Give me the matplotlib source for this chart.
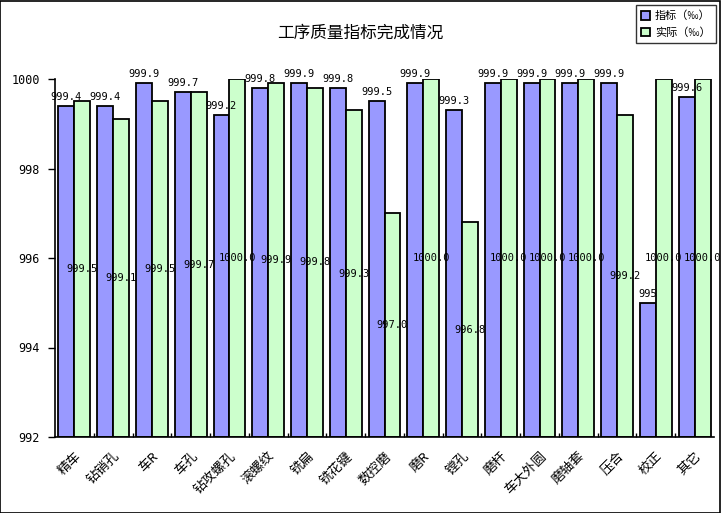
import matplotlib
matplotlib.use("Agg")
import matplotlib.pyplot as plt
import numpy as np
from matplotlib.patches import Rectangle

plt.rcParams['font.family'] = ['Noto Sans CJK SC', 'DejaVu Sans']

categories = ["精车", "钻销孔", "车R", "车孔", "钻攻螺孔", "滚螺纹", "铣扁", "铣花键", "数控磨",
              "磨R", "镗孔", "磨杆", "车大外圆", "磨轴套", "压合", "校正", "其它"]
target = [999.4, 999.4, 999.9, 999.7, 999.2, 999.8, 999.9, 999.8, 999.5,
          999.9, 999.3, 999.9, 999.9, 999.9, 999.9, 995, 999.6]
actual = [999.5, 999.1, 999.5, 999.7, 1000.0, 999.9, 999.8, 999.3, 997.0,
          1000.0, 996.8, 1000.0, 1000.0, 1000.0, 999.2, 1000.0, 1000.0]
target_labels = ["999.4", "999.4", "999.9", "999.7", "999.2", "999.8", "999.9", "999.8", "999.5",
                 "999.9", "999.3", "999.9", "999.9", "999.9", "999.9", "995", "999.6"]
actual_labels = ["999.5", "999.1", "999.5", "999.7", "1000.0", "999.9", "999.8", "999.3", "997.0",
                 "1000.0", "996.8", "1000.0", "1000.0", "1000.0", "999.2", "1000.0", "1000.0"]
series_names = ["指标（‰）", "实际（‰）"]
yticks = [992, 994, 996, 998, 1000]
ybase = 992

fig = plt.figure(figsize=(7.21, 5.13), dpi=100)
fig.patch.set_facecolor('white')
fig.add_artist(Rectangle((0.0005, 0.0005), 0.998, 0.998, transform=fig.transFigure,
                         fill=False, edgecolor='black', linewidth=1.2))

ax = fig.add_axes([55/721, 76/513, 659/721, 358/513])
n = len(categories)
x = np.arange(n)
w = 0.41
c1, c2 = '#9999FF', '#CCFFCC'
b1 = ax.bar(x - w/2, np.array(target) - ybase, w, bottom=ybase, color=c1,
            edgecolor='black', linewidth=1.3, label=series_names[0])
b2 = ax.bar(x + w/2, np.array(actual) - ybase, w, bottom=ybase, color=c2,
            edgecolor='black', linewidth=1.3, label=series_names[1])

numfont = dict(family='DejaVu Sans Mono', fontsize=7.5, color='black')
for i in range(n):
    ax.annotate(target_labels[i], (x[i] - w/2, target[i]), xytext=(0, 3),
                textcoords='offset points', ha='center', va='bottom', **numfont)
    ax.text(x[i] + w/2, (ybase + actual[i]) / 2, actual_labels[i],
            ha='center', va='center', **numfont)

ax.set_xlim(-0.5, n - 0.5)
ax.set_ylim(992, 1000)
ax.set_yticks(yticks)
ax.set_yticklabels([str(v) for v in yticks], family='DejaVu Sans Mono', fontsize=8.5)
ax.tick_params(axis='y', direction='out', length=5, width=1, pad=6)

ax.set_xticks(x)
ax.set_xticklabels(categories, rotation=45, ha='right', va='top',
                   rotation_mode='anchor', fontsize=9.5)
ax.tick_params(axis='x', which='major', length=0, pad=9)
ax.set_xticks(np.arange(n - 1) + 0.5, minor=True)
ax.tick_params(axis='x', which='minor', direction='in', length=3, width=1)

for s in ['top', 'right']:
    ax.spines[s].set_visible(False)
for s in ['left', 'bottom']:
    ax.spines[s].set_linewidth(1.2)
ax.set_facecolor('white')

fig.text(360/721, 1 - 33/513, "工序质量指标完成情况", ha='center', va='center', fontsize=12)

leg = fig.legend(handles=[b1, b2], labels=series_names, loc='upper right',
                 bbox_to_anchor=(716/721, 1 - 5/513), fontsize=8, frameon=True,
                 fancybox=False, edgecolor='black', handlelength=0.8, handleheight=0.8,
                 handletextpad=0.4, borderpad=0.5, labelspacing=0.55, borderaxespad=0)
leg.get_frame().set_linewidth(1.0)

fig.savefig("out.png", dpi=100, facecolor='white')
